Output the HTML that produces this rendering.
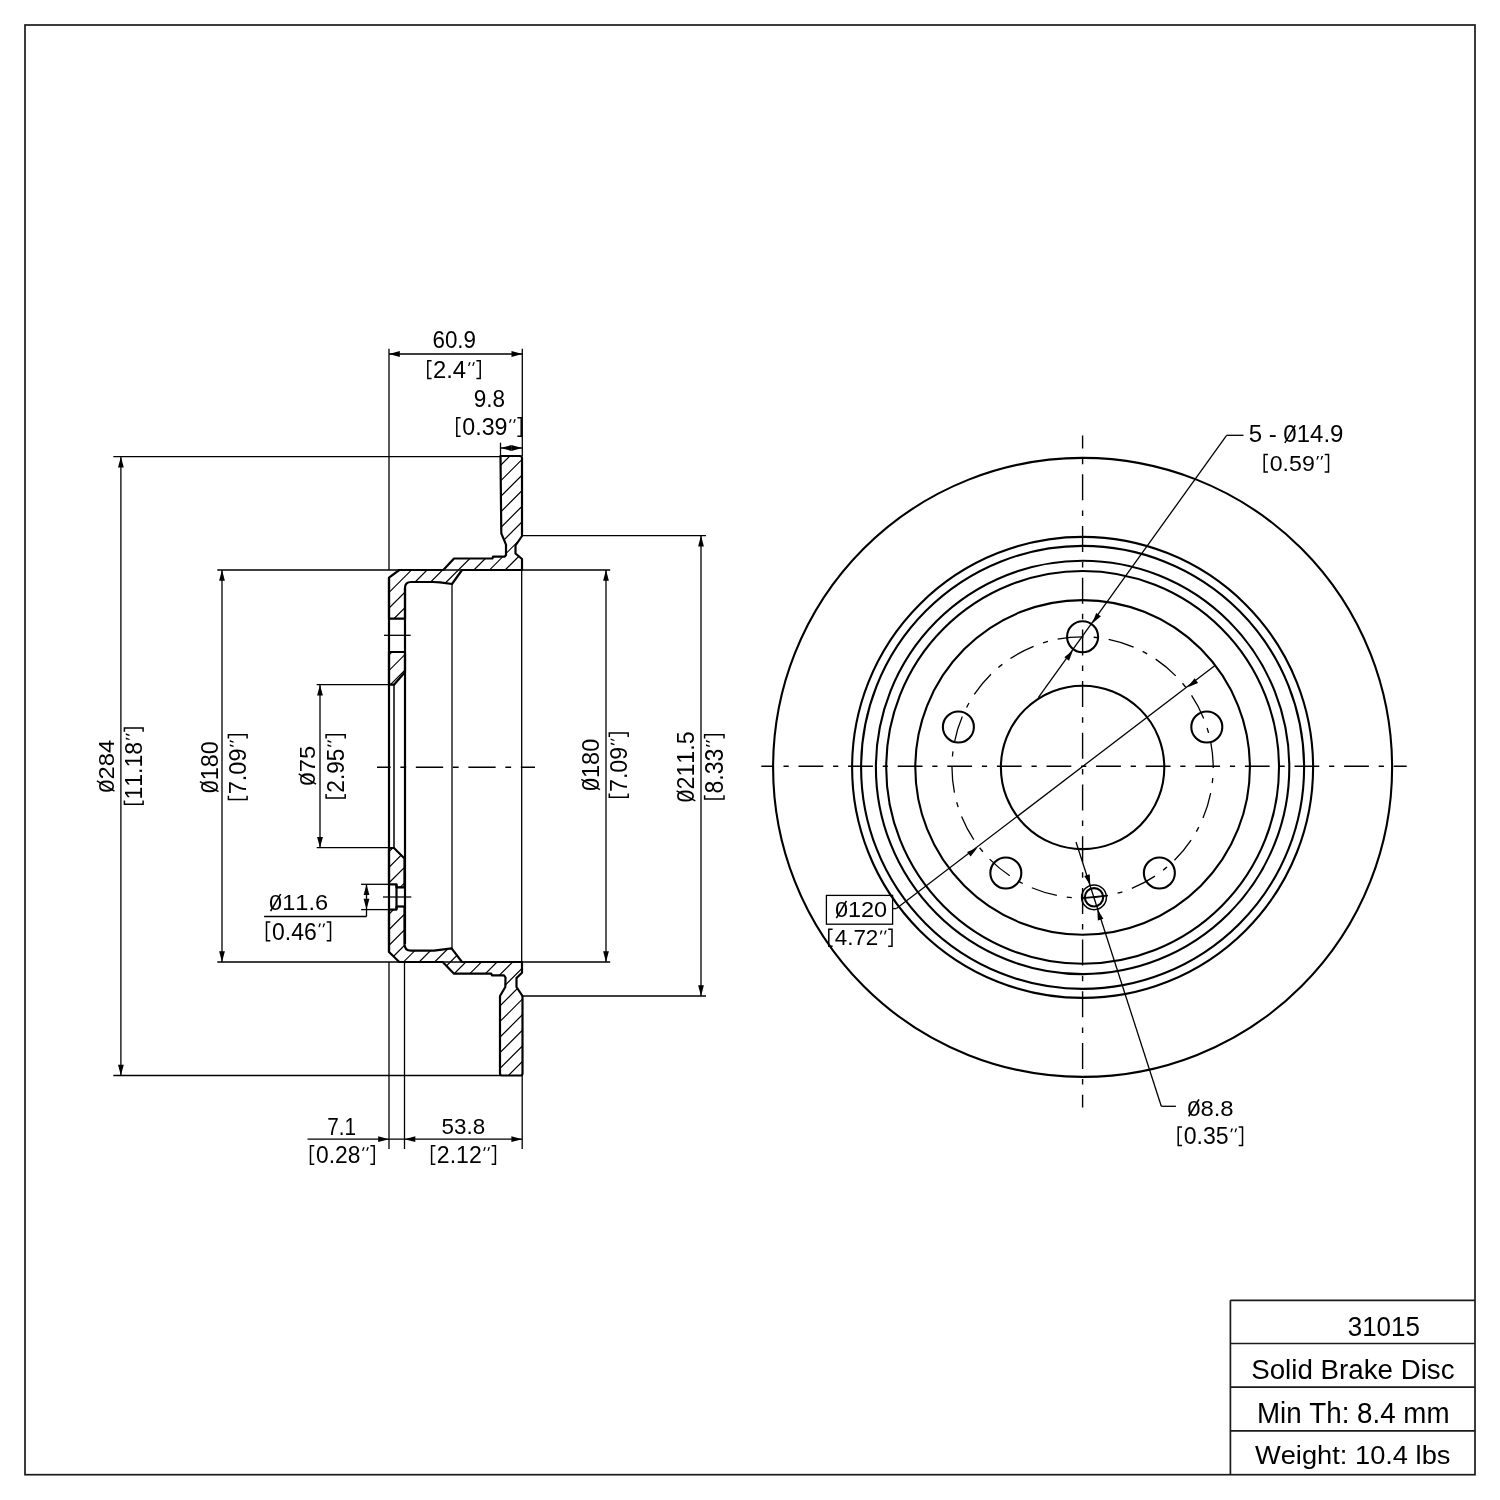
<!DOCTYPE html><html><head><meta charset="utf-8"><title>31015 Solid Brake Disc</title><style>
html,body{margin:0;padding:0;background:#fff;width:1500px;height:1500px;overflow:hidden}
svg{display:block}
text{font-family:"Liberation Sans",sans-serif;fill:#000;font-kerning:none;stroke:none}
.bd{fill:none;stroke:#1a1a1a;stroke-width:1.7}
.tk{fill:none;stroke:#000;stroke-width:2.2;stroke-linejoin:round}
.tk2{fill:none;stroke:#000;stroke-width:2.1}
.md{fill:none;stroke:#000;stroke-width:1.5}
.tn{fill:none;stroke:#000;stroke-width:1.3}
.ht{fill:none;stroke:#000;stroke-width:1.2}
.cl{fill:none;stroke:#000;stroke-width:1.4}
.dsh{fill:none;stroke:#000;stroke-width:1.3}
.ar{fill:#000;stroke:none}
.br{fill:none;stroke:#000;stroke-width:1.5;stroke-linejoin:miter}
.qu{fill:#000;stroke:none}
.sl{stroke:#000;fill:none}
</style></head><body><svg style="will-change:transform" width="1500" height="1500" viewBox="0 0 1500 1500">
<rect x="25" y="25" width="1450" height="1449.7" class="bd"/>
<line x1="1230.40" y1="1300.30" x2="1230.40" y2="1474.70" class="bd"/>
<line x1="1230.40" y1="1300.30" x2="1475.00" y2="1300.30" class="bd"/>
<line x1="1230.40" y1="1343.50" x2="1475.00" y2="1343.50" class="bd"/>
<line x1="1230.40" y1="1387.20" x2="1475.00" y2="1387.20" class="bd"/>
<line x1="1230.40" y1="1430.90" x2="1475.00" y2="1430.90" class="bd"/>
<clipPath id="secT"><path d="M500.5 456 L520 456 Q522 456 522 458 L522 536 L515.5 545.5 L515.5 553.5 L522 559 L522 570 L462 570 L452 584 L440 582.3 L433 582 L411 582 Q405 582 405 588 L405 618.7 L389 618.7 L389 577.7 L399.3 570 L443.3 570 L454 558.5 L492.5 558.5 L493 556.7 L504.7 556.7 L506 555 L506 544.7 L501.3 533.3 Z M389 652 L405 652 L405 672 L394 684.7 L389 684.7 Z"/></clipPath>
<clipPath id="secB"><path d="M389 848 L394 848 L403.5 857.5 L404.5 858 L404.5 887.3 L396.5 887.3 L396.5 884.3 L389 884.3 Z M389 909.6 L396.5 909.6 L396.5 906.5 L404.5 906.5 L404.5 944 Q404.5 950.7 411 950.7 L434 950.7 L451.6 948.3 L462 962 L522 962 L522 972.7 L516.5 978 L516.5 987 L522.5 996 L522.5 1073.5 Q522.5 1075.5 520.5 1075.5 L502 1075.5 Q500 1075.5 500 1073.5 L500 996 L505.3 987 L505.5 977.5 L504 975.3 L492 975.3 L491.3 973.7 L454 973.7 L442.7 962 L399.3 962 L389 952 Z"/></clipPath>
<path d="M-258.90 1100.00 L441.10 400.00 M-243.30 1100.00 L456.70 400.00 M-227.70 1100.00 L472.30 400.00 M-212.10 1100.00 L487.90 400.00 M-196.50 1100.00 L503.50 400.00 M-180.90 1100.00 L519.10 400.00 M-165.30 1100.00 L534.70 400.00 M-149.70 1100.00 L550.30 400.00 M-134.10 1100.00 L565.90 400.00 M-118.50 1100.00 L581.50 400.00 M-102.90 1100.00 L597.10 400.00 M-87.30 1100.00 L612.70 400.00 M-71.70 1100.00 L628.30 400.00 M-56.10 1100.00 L643.90 400.00 M-40.50 1100.00 L659.50 400.00 M-24.90 1100.00 L675.10 400.00 M-9.30 1100.00 L690.70 400.00 M6.30 1100.00 L706.30 400.00 M21.90 1100.00 L721.90 400.00 M37.50 1100.00 L737.50 400.00 M53.10 1100.00 L753.10 400.00 M68.70 1100.00 L768.70 400.00 M84.30 1100.00 L784.30 400.00 M99.90 1100.00 L799.90 400.00 M115.50 1100.00 L815.50 400.00 M131.10 1100.00 L831.10 400.00 M146.70 1100.00 L846.70 400.00 M162.30 1100.00 L862.30 400.00 M177.90 1100.00 L877.90 400.00 M193.50 1100.00 L893.50 400.00 M209.10 1100.00 L909.10 400.00 M224.70 1100.00 L924.70 400.00 M240.30 1100.00 L940.30 400.00 M255.90 1100.00 L955.90 400.00 M271.50 1100.00 L971.50 400.00 M287.10 1100.00 L987.10 400.00 M302.70 1100.00 L1002.70 400.00 M318.30 1100.00 L1018.30 400.00 M333.90 1100.00 L1033.90 400.00 M349.50 1100.00 L1049.50 400.00 M365.10 1100.00 L1065.10 400.00 M380.70 1100.00 L1080.70 400.00 M396.30 1100.00 L1096.30 400.00 M411.90 1100.00 L1111.90 400.00 M427.50 1100.00 L1127.50 400.00 M443.10 1100.00 L1143.10 400.00 M458.70 1100.00 L1158.70 400.00 M474.30 1100.00 L1174.30 400.00 M489.90 1100.00 L1189.90 400.00 M505.50 1100.00 L1205.50 400.00 M521.10 1100.00 L1221.10 400.00 M536.70 1100.00 L1236.70 400.00 M552.30 1100.00 L1252.30 400.00 M567.90 1100.00 L1267.90 400.00 M583.50 1100.00 L1283.50 400.00 M599.10 1100.00 L1299.10 400.00" class="ht" clip-path="url(#secT)"/>
<path d="M-249.30 1100.00 L450.70 400.00 M-233.70 1100.00 L466.30 400.00 M-218.10 1100.00 L481.90 400.00 M-202.50 1100.00 L497.50 400.00 M-186.90 1100.00 L513.10 400.00 M-171.30 1100.00 L528.70 400.00 M-155.70 1100.00 L544.30 400.00 M-140.10 1100.00 L559.90 400.00 M-124.50 1100.00 L575.50 400.00 M-108.90 1100.00 L591.10 400.00 M-93.30 1100.00 L606.70 400.00 M-77.70 1100.00 L622.30 400.00 M-62.10 1100.00 L637.90 400.00 M-46.50 1100.00 L653.50 400.00 M-30.90 1100.00 L669.10 400.00 M-15.30 1100.00 L684.70 400.00 M0.30 1100.00 L700.30 400.00 M15.90 1100.00 L715.90 400.00 M31.50 1100.00 L731.50 400.00 M47.10 1100.00 L747.10 400.00 M62.70 1100.00 L762.70 400.00 M78.30 1100.00 L778.30 400.00 M93.90 1100.00 L793.90 400.00 M109.50 1100.00 L809.50 400.00 M125.10 1100.00 L825.10 400.00 M140.70 1100.00 L840.70 400.00 M156.30 1100.00 L856.30 400.00 M171.90 1100.00 L871.90 400.00 M187.50 1100.00 L887.50 400.00 M203.10 1100.00 L903.10 400.00 M218.70 1100.00 L918.70 400.00 M234.30 1100.00 L934.30 400.00 M249.90 1100.00 L949.90 400.00 M265.50 1100.00 L965.50 400.00 M281.10 1100.00 L981.10 400.00 M296.70 1100.00 L996.70 400.00 M312.30 1100.00 L1012.30 400.00 M327.90 1100.00 L1027.90 400.00 M343.50 1100.00 L1043.50 400.00 M359.10 1100.00 L1059.10 400.00 M374.70 1100.00 L1074.70 400.00 M390.30 1100.00 L1090.30 400.00 M405.90 1100.00 L1105.90 400.00 M421.50 1100.00 L1121.50 400.00 M437.10 1100.00 L1137.10 400.00 M452.70 1100.00 L1152.70 400.00 M468.30 1100.00 L1168.30 400.00 M483.90 1100.00 L1183.90 400.00 M499.50 1100.00 L1199.50 400.00 M515.10 1100.00 L1215.10 400.00 M530.70 1100.00 L1230.70 400.00 M546.30 1100.00 L1246.30 400.00 M561.90 1100.00 L1261.90 400.00 M577.50 1100.00 L1277.50 400.00 M593.10 1100.00 L1293.10 400.00" class="ht" clip-path="url(#secB)"/>
<path d="M500.5 456 L520 456 Q522 456 522 458 L522 536 L515.5 545.5 L515.5 553.5 L522 559 L522 570 L462 570 L452 584 L440 582.3 L433 582 L411 582 Q405 582 405 588 L405 618.7 L389 618.7 L389 577.7 L399.3 570 L443.3 570 L454 558.5 L492.5 558.5 L493 556.7 L504.7 556.7 L506 555 L506 544.7 L501.3 533.3 Z" class="tk"/>
<path d="M389 652 L405 652 L405 672 L394 684.7 L389 684.7 Z" class="tk"/>
<path d="M389 848 L394 848 L403.5 857.5 L404.5 858 L404.5 887.3 L396.5 887.3 L396.5 884.3 L389 884.3 Z" class="tk"/>
<path d="M389 909.6 L396.5 909.6 L396.5 906.5 L404.5 906.5 L404.5 944 Q404.5 950.7 411 950.7 L434 950.7 L451.6 948.3 L462 962 L522 962 L522 972.7 L516.5 978 L516.5 987 L522.5 996 L522.5 1073.5 Q522.5 1075.5 520.5 1075.5 L502 1075.5 Q500 1075.5 500 1073.5 L500 996 L505.3 987 L505.5 977.5 L504 975.3 L492 975.3 L491.3 973.7 L454 973.7 L442.7 962 L399.3 962 L389 952 Z" class="tk"/>
<line x1="389.00" y1="577.70" x2="389.00" y2="952.00" class="tk"/>
<line x1="405.00" y1="588.00" x2="405.00" y2="944.00" class="tk"/>
<line x1="394.00" y1="684.70" x2="394.00" y2="848.00" class="md"/>
<line x1="396.50" y1="884.30" x2="396.50" y2="909.60" class="tk"/>
<line x1="396.50" y1="887.30" x2="404.50" y2="887.30" class="md"/>
<line x1="396.50" y1="906.50" x2="404.50" y2="906.50" class="md"/>
<line x1="452.00" y1="584.00" x2="452.00" y2="948.30" class="tn"/>
<line x1="521.70" y1="570.00" x2="521.70" y2="962.00" class="tn"/>
<line x1="384.00" y1="635.30" x2="410.70" y2="635.30" class="tn"/>
<line x1="383.00" y1="897.00" x2="411.30" y2="897.00" class="tn"/>
<line x1="377" y1="767.3" x2="535" y2="767.3" class="cl" stroke-dasharray="27.3 9.7 5.8 9.7" stroke-dashoffset="13.65"/>
<line x1="113.30" y1="456.70" x2="500.50" y2="456.70" class="tn"/>
<line x1="113.30" y1="1075.50" x2="500.00" y2="1075.50" class="tn"/>
<line x1="217.30" y1="570.00" x2="610.20" y2="570.00" class="tn"/>
<line x1="217.30" y1="962.00" x2="610.20" y2="962.00" class="tn"/>
<line x1="521.50" y1="535.60" x2="706.00" y2="535.60" class="tn"/>
<line x1="521.50" y1="996.00" x2="706.00" y2="996.00" class="tn"/>
<line x1="316.70" y1="684.70" x2="389.00" y2="684.70" class="tn"/>
<line x1="316.70" y1="847.70" x2="389.00" y2="847.70" class="tn"/>
<line x1="361.10" y1="884.30" x2="389.00" y2="884.30" class="tn"/>
<line x1="361.10" y1="909.60" x2="389.00" y2="909.60" class="tn"/>
<line x1="389.00" y1="348.70" x2="389.00" y2="570.00" class="tn"/>
<line x1="522.30" y1="348.70" x2="522.30" y2="456.00" class="tn"/>
<line x1="500.50" y1="442.70" x2="500.50" y2="456.00" class="tn"/>
<line x1="389.00" y1="962.00" x2="389.00" y2="1149.00" class="tn"/>
<line x1="404.50" y1="962.00" x2="404.50" y2="1149.00" class="tn"/>
<line x1="522.20" y1="1075.00" x2="522.20" y2="1149.00" class="tn"/>
<line x1="389.00" y1="354.00" x2="522.30" y2="354.00" class="tn"/>
<path d="M389.00 354.00 L399.80 351.10 L399.80 356.90 Z" class="ar"/>
<path d="M522.30 354.00 L511.50 356.90 L511.50 351.10 Z" class="ar"/>
<line x1="500.50" y1="448.00" x2="522.30" y2="448.00" class="tn"/>
<path d="M500.50 448.00 L511.40 445.10 L511.40 450.90 Z" class="ar"/>
<path d="M522.30 448.00 L511.40 450.90 L511.40 445.10 Z" class="ar"/>
<line x1="120.90" y1="456.70" x2="120.90" y2="1075.50" class="tn"/>
<path d="M120.90 456.70 L123.80 467.50 L118.00 467.50 Z" class="ar"/>
<path d="M120.90 1075.50 L118.00 1064.70 L123.80 1064.70 Z" class="ar"/>
<line x1="222.00" y1="570.00" x2="222.00" y2="962.00" class="tn"/>
<path d="M222.00 570.00 L224.90 580.80 L219.10 580.80 Z" class="ar"/>
<path d="M222.00 962.00 L219.10 951.20 L224.90 951.20 Z" class="ar"/>
<line x1="320.00" y1="684.70" x2="320.00" y2="847.70" class="tn"/>
<path d="M320.00 684.70 L322.90 695.50 L317.10 695.50 Z" class="ar"/>
<path d="M320.00 847.70 L317.10 836.90 L322.90 836.90 Z" class="ar"/>
<line x1="366.50" y1="884.30" x2="366.50" y2="916.50" class="tn"/>
<path d="M366.50 884.30 L369.40 895.10 L363.60 895.10 Z" class="ar"/>
<path d="M366.50 909.60 L363.60 898.80 L369.40 898.80 Z" class="ar"/>
<line x1="264.10" y1="916.50" x2="366.50" y2="916.50" class="tn"/>
<line x1="307.50" y1="1139.20" x2="522.20" y2="1139.20" class="tn"/>
<path d="M389.00 1139.20 L378.20 1142.10 L378.20 1136.30 Z" class="ar"/>
<path d="M404.50 1139.20 L415.30 1136.30 L415.30 1142.10 Z" class="ar"/>
<path d="M522.20 1139.20 L511.40 1142.10 L511.40 1136.30 Z" class="ar"/>
<line x1="606.00" y1="570.00" x2="606.00" y2="962.00" class="tn"/>
<path d="M606.00 570.00 L608.90 580.80 L603.10 580.80 Z" class="ar"/>
<path d="M606.00 962.00 L603.10 951.20 L608.90 951.20 Z" class="ar"/>
<line x1="701.00" y1="535.60" x2="701.00" y2="996.00" class="tn"/>
<path d="M701.00 535.60 L703.90 546.40 L698.10 546.40 Z" class="ar"/>
<path d="M701.00 996.00 L698.10 985.20 L703.90 985.20 Z" class="ar"/>
<circle cx="1082.60" cy="767.40" r="309.50" class="tk2"/>
<circle cx="1082.60" cy="767.40" r="230.50" class="tk2"/>
<circle cx="1082.60" cy="767.40" r="221.50" class="tk2"/>
<circle cx="1082.60" cy="767.40" r="206.70" class="tk2"/>
<circle cx="1082.60" cy="767.40" r="196.40" class="tk2"/>
<circle cx="1082.60" cy="767.40" r="167.30" class="tk2"/>
<circle cx="1082.60" cy="767.40" r="81.70" class="tk2"/>
<circle cx="1082.60" cy="767.40" r="130.60" class="dsh" stroke-dasharray="26.2 10 5.1 10" transform="rotate(-11.2 1082.60 767.40)"/>
<circle cx="1082.60" cy="636.80" r="15.5" class="tk2"/>
<circle cx="1206.81" cy="727.04" r="15.5" class="tk2"/>
<circle cx="1159.36" cy="873.06" r="15.5" class="tk2"/>
<circle cx="1005.84" cy="873.06" r="15.5" class="tk2"/>
<circle cx="958.39" cy="727.04" r="15.5" class="tk2"/>
<circle cx="1094.00" cy="897.30" r="9.2" class="tk2"/>
<circle cx="1094.00" cy="897.30" r="12.4" class="md"/>
<line x1="1082.70" y1="898.00" x2="1108.00" y2="895.30" class="tn"/>
<line x1="1082.6" y1="435.6" x2="1082.6" y2="1107.5" class="cl" stroke-dasharray="26 10.1 5.5 10.1" stroke-dashoffset="13"/>
<line x1="761.3" y1="766.3" x2="1406.7" y2="766.3" class="cl" stroke-dasharray="24.8 9.8 5.2 9.8" stroke-dashoffset="12.4"/>
<line x1="1226.60" y1="435.30" x2="1243.50" y2="435.30" class="tn"/>
<line x1="1226.60" y1="435.30" x2="1038.30" y2="697.60" class="tn"/>
<path d="M1092.22 623.40 L1096.16 612.93 L1100.88 616.31 Z" class="ar"/>
<path d="M1072.98 650.20 L1069.04 660.67 L1064.32 657.29 Z" class="ar"/>
<rect x="826.4" y="895.4" width="66.2" height="28.8" class="tn"/>
<line x1="892.60" y1="908.60" x2="896.40" y2="908.60" class="tn"/>
<line x1="896.40" y1="908.60" x2="1214.70" y2="665.70" class="tn"/>
<path d="M1187.77 687.14 L1194.60 678.28 L1198.12 682.89 Z" class="ar"/>
<path d="M977.43 847.66 L970.60 856.52 L967.08 851.91 Z" class="ar"/>
<line x1="1076.00" y1="842.00" x2="1161.30" y2="1106.30" class="tn"/>
<line x1="1161.30" y1="1106.30" x2="1175.90" y2="1106.30" class="tn"/>
<path d="M1090.30 885.30 L1084.22 875.91 L1089.74 874.13 Z" class="ar"/>
<path d="M1097.30 909.30 L1103.38 918.69 L1097.86 920.47 Z" class="ar"/>
<g transform="translate(432.46 348.47) scale(0.9497 1)"><text font-size="23.59">60.9</text></g>
<path d="M431.60 360.80 L427.80 360.80 L427.80 378.50 L431.60 378.50 M476.40 360.80 L480.20 360.80 L480.20 378.50 L476.40 378.50" class="br"/><path d="M469.00 362.20 L470.70 362.20 L469.20 366.00 L468.10 366.00 Z M473.20 362.20 L474.90 362.20 L473.40 366.00 L472.30 366.00 Z " class="qu"/><g transform="translate(433.00 377.50) scale(1.0325 1)"><text font-size="23.06">2.4</text></g>
<g transform="translate(473.64 406.78) scale(0.9791 1)"><text font-size="23.02">9.8</text></g>
<path d="M460.60 417.80 L456.80 417.80 L456.80 436.20 L460.60 436.20 M517.40 417.80 L521.20 417.80 L521.20 436.20 L517.40 436.20" class="br"/><path d="M510.00 419.20 L511.70 419.20 L510.20 423.00 L509.10 423.00 Z M514.20 419.20 L515.90 419.20 L514.40 423.00 L513.30 423.00 Z " class="qu"/><g transform="translate(462.29 434.97) scale(0.9789 1)"><text font-size="23.73">0.39</text></g>
<g transform="translate(269.08 910.38) scale(1.0534 1)"><text font-size="22.37">011.6</text><line x1="1.42" y1="0.82" x2="11.03" y2="-16.38" class="sl" stroke-width="1.50"/></g>
<path d="M270.30 922.10 L266.50 922.10 L266.50 940.80 L270.30 940.80 M326.70 922.10 L330.50 922.10 L330.50 940.80 L326.70 940.80" class="br"/><path d="M319.30 923.50 L321.00 923.50 L319.50 927.30 L318.40 927.30 Z M323.50 923.50 L325.20 923.50 L323.70 927.30 L322.60 927.30 Z " class="qu"/><g transform="translate(272.00 939.56) scale(0.9511 1)"><text font-size="24.15">0.46</text></g>
<g transform="translate(327.24 1134.50) scale(0.8790 1)"><text font-size="23.55">7.1</text></g>
<path d="M314.30 1145.80 L310.50 1145.80 L310.50 1164.20 L314.30 1164.20 M370.40 1145.80 L374.20 1145.80 L374.20 1164.20 L370.40 1164.20" class="br"/><path d="M363.00 1147.20 L364.70 1147.20 L363.20 1151.00 L362.10 1151.00 Z M367.20 1147.20 L368.90 1147.20 L367.40 1151.00 L366.30 1151.00 Z " class="qu"/><g transform="translate(316.01 1162.97) scale(0.9610 1)"><text font-size="23.73">0.28</text></g>
<g transform="translate(441.60 1134.28) scale(0.9784 1)"><text font-size="22.88">53.8</text></g>
<path d="M435.40 1145.80 L431.60 1145.80 L431.60 1164.20 L435.40 1164.20 M491.60 1145.80 L495.40 1145.80 L495.40 1164.20 L491.60 1164.20" class="br"/><path d="M484.20 1147.20 L485.90 1147.20 L484.40 1151.00 L483.30 1151.00 Z M488.40 1147.20 L490.10 1147.20 L488.60 1151.00 L487.50 1151.00 Z " class="qu"/><g transform="translate(436.84 1163.20) scale(0.9593 1)"><text font-size="24.06">2.12</text></g>
<g transform="translate(1248.64 442.16) scale(1.0446 1)"><text font-size="23.02">5 - 014.9</text><line x1="34.71" y1="0.84" x2="44.60" y2="-16.86" class="sl" stroke-width="1.50"/></g>
<path d="M1268.00 454.50 L1264.20 454.50 L1264.20 472.10 L1268.00 472.10 M1324.70 454.50 L1328.50 454.50 L1328.50 472.10 L1324.70 472.10" class="br"/><path d="M1317.30 455.90 L1319.00 455.90 L1317.50 459.70 L1316.40 459.70 Z M1321.50 455.90 L1323.20 455.90 L1321.70 459.70 L1320.60 459.70 Z " class="qu"/><g transform="translate(1269.69 470.88) scale(1.0254 1)"><text font-size="22.60">0.59</text></g>
<g transform="translate(1187.17 1115.50) scale(1.0865 1)"><text font-size="21.98">08.8</text><line x1="1.39" y1="0.80" x2="10.84" y2="-16.10" class="sl" stroke-width="1.50"/></g>
<path d="M1182.00 1127.10 L1178.20 1127.10 L1178.20 1145.40 L1182.00 1145.40 M1238.70 1127.10 L1242.50 1127.10 L1242.50 1145.40 L1238.70 1145.40" class="br"/><path d="M1231.30 1128.50 L1233.00 1128.50 L1231.50 1132.30 L1230.40 1132.30 Z M1235.50 1128.50 L1237.20 1128.50 L1235.70 1132.30 L1234.60 1132.30 Z " class="qu"/><g transform="translate(1183.70 1144.17) scale(0.9796 1)"><text font-size="23.59">0.35</text></g>
<g transform="translate(834.88 917.37) scale(1.0378 1)"><text font-size="22.63">0120</text><line x1="1.44" y1="0.83" x2="11.16" y2="-16.57" class="sl" stroke-width="1.50"/></g>
<path d="M832.60 929.20 L828.80 929.20 L828.80 946.20 L832.60 946.20 M888.20 929.20 L892.00 929.20 L892.00 946.20 L888.20 946.20" class="br"/><path d="M880.80 930.60 L882.50 930.60 L881.00 934.40 L879.90 934.40 Z M885.00 930.60 L886.70 930.60 L885.20 934.40 L884.10 934.40 Z " class="qu"/><g transform="translate(834.69 945.20) scale(1.0167 1)"><text font-size="22.06">4.72</text></g>
<g transform="translate(1347.71 1335.63) scale(0.9536 1)"><text font-size="27.26">31015</text></g>
<g transform="translate(1251.14 1378.84) scale(1.0293 1)"><text font-size="26.96">Solid Brake Disc</text></g>
<g transform="translate(1256.93 1423.20) scale(0.9635 1)"><text font-size="28.78">Min Th: 8.4 mm</text></g>
<g transform="translate(1254.98 1463.52) scale(1.0331 1)"><text font-size="26.39">Weight: 10.4 lbs</text></g>
<g transform="rotate(-90) translate(-792.63 113.66) scale(1.0375 1)"><text font-size="22.89">0284</text><line x1="1.45" y1="0.84" x2="11.29" y2="-16.76" class="sl" stroke-width="1.50"/></g>
<path transform="rotate(-90)" d="M-800.40 124.40 L-804.20 124.40 L-804.20 143.10 L-800.40 143.10 M-731.80 124.40 L-728.00 124.40 L-728.00 143.10 L-731.80 143.10" class="br"/><path transform="rotate(-90)" d="M-739.20 125.80 L-737.50 125.80 L-739.00 129.60 L-740.10 129.60 Z M-735.00 125.80 L-733.30 125.80 L-734.80 129.60 L-735.90 129.60 Z " class="qu"/><g transform="rotate(-90) translate(-799.56 141.86) scale(0.9557 1)"><text font-size="24.15">11.18</text></g>
<g transform="rotate(-90) translate(-793.22 217.61) scale(0.9689 1)"><text font-size="24.19">0180</text><line x1="1.54" y1="0.89" x2="11.93" y2="-17.71" class="sl" stroke-width="1.50"/></g>
<path transform="rotate(-90)" d="M-795.70 228.40 L-799.50 228.40 L-799.50 247.10 L-795.70 247.10 M-738.60 228.40 L-734.80 228.40 L-734.80 247.10 L-738.60 247.10" class="br"/><path transform="rotate(-90)" d="M-746.00 229.80 L-744.30 229.80 L-745.80 233.60 L-746.90 233.60 Z M-741.80 229.80 L-740.10 229.80 L-741.60 233.60 L-742.70 233.60 Z " class="qu"/><g transform="rotate(-90) translate(-794.31 245.86) scale(0.9748 1)"><text font-size="24.15">7.09</text></g>
<g transform="rotate(-90) translate(-785.64 315.18) scale(1.0641 1)"><text font-size="22.50">075</text><line x1="1.43" y1="0.82" x2="11.09" y2="-16.48" class="sl" stroke-width="1.50"/></g>
<path transform="rotate(-90)" d="M-794.10 326.10 L-797.90 326.10 L-797.90 345.20 L-794.10 345.20 M-738.60 326.10 L-734.80 326.10 L-734.80 345.20 L-738.60 345.20" class="br"/><path transform="rotate(-90)" d="M-746.00 327.50 L-744.30 327.50 L-745.80 331.30 L-746.90 331.30 Z M-741.80 327.50 L-740.10 327.50 L-741.60 331.30 L-742.70 331.30 Z " class="qu"/><g transform="rotate(-90) translate(-792.64 343.96) scale(0.9143 1)"><text font-size="24.72">2.95</text></g>
<g transform="rotate(-90) translate(-791.02 599.11) scale(0.9656 1)"><text font-size="24.32">0180</text><line x1="1.54" y1="0.89" x2="11.99" y2="-17.81" class="sl" stroke-width="1.50"/></g>
<path transform="rotate(-90)" d="M-793.40 609.30 L-797.20 609.30 L-797.20 628.20 L-793.40 628.20 M-736.90 609.30 L-733.10 609.30 L-733.10 628.20 L-736.90 628.20" class="br"/><path transform="rotate(-90)" d="M-744.30 610.70 L-742.60 610.70 L-744.10 614.50 L-745.20 614.50 Z M-740.10 610.70 L-738.40 610.70 L-739.90 614.50 L-741.00 614.50 Z " class="qu"/><g transform="rotate(-90) translate(-791.99 626.96) scale(0.9502 1)"><text font-size="24.43">7.09</text></g>
<g transform="rotate(-90) translate(-802.41 694.41) scale(0.9558 1)"><text font-size="24.32">0211.5</text><line x1="1.54" y1="0.89" x2="11.99" y2="-17.81" class="sl" stroke-width="1.50"/></g>
<path transform="rotate(-90)" d="M-795.20 704.60 L-799.00 704.60 L-799.00 724.00 L-795.20 724.00 M-738.60 704.60 L-734.80 704.60 L-734.80 724.00 L-738.60 724.00" class="br"/><path transform="rotate(-90)" d="M-746.00 706.00 L-744.30 706.00 L-745.80 709.80 L-746.90 709.80 Z M-741.80 706.00 L-740.10 706.00 L-741.60 709.80 L-742.70 709.80 Z " class="qu"/><g transform="rotate(-90) translate(-793.61 722.75) scale(0.9201 1)"><text font-size="25.14">8.33</text></g>
</svg></body></html>
